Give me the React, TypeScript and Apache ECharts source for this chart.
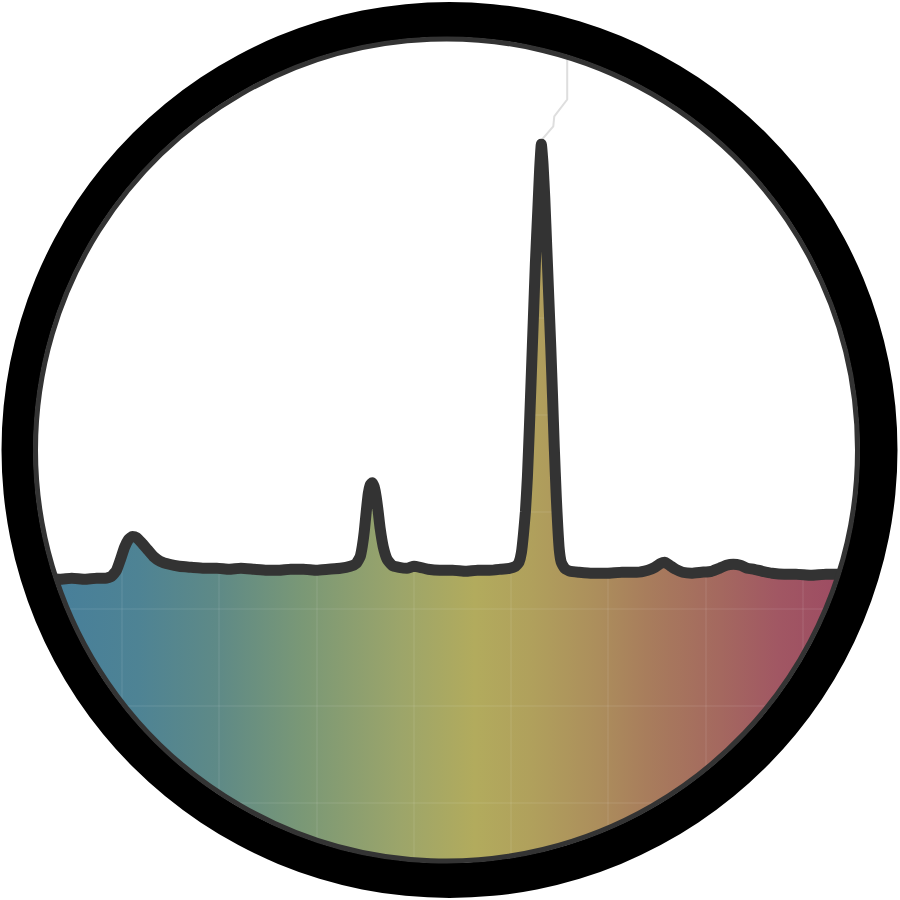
import React, { useEffect, useRef } from "react";
import * as echarts from "echarts";

// Spectrum trace (x: shift units, y: intensity units)
const shift = [
  5.5, 20.5, 35.5, 47.5, 60.5, 72.5, 81.5, 87.5, 92.5, 96.5, 100.5, 104.5, 108.5, 112.5, 117.5, 123.5,
  129.5, 136.5, 145.5, 155.5, 167.5, 180.5, 193.5, 205.5, 217.5, 230.5, 243.5, 255.5, 267.5, 280.5,
  293.5, 305.5, 317.5, 327.5, 333.5, 337.5, 339.5, 341.5, 343.5, 345.5, 347.5, 349.5, 351.5, 353.5,
  355.5, 357.5, 360.5, 364.5, 369.5, 376.5, 384.5, 391.5, 397.5, 405.5, 417.5, 430.5, 443.5, 455.5,
  467.5, 478.5, 487.5, 493.5, 497, 499.5, 501.5, 503.5, 505.5, 507.5, 509.5, 511.5, 513.5, 516,
  517.8, 519.5, 521.2, 523, 525, 527, 529, 530.8, 532.5, 534.5, 536, 537.5, 539.5, 543, 548.5,
  557.5, 570.5, 585.5, 600.5, 615.5, 626.5, 633.5, 639.5, 643.5, 648.5, 654.5, 661.5, 670.5, 680.5,
  690.5, 698.5, 705.5, 712.5, 719.5, 726.5, 733.5, 741.5, 751.5, 763.5, 775.5, 790.5, 805.5, 820.5, 845.5,
];
const intensity = [
  324, 324, 323, 324, 323, 324, 324, 326, 332, 343, 355, 363, 366, 365, 360, 353,
  346, 341, 338, 336, 335, 334, 334, 333, 334, 333, 332, 332, 333, 333,
  332, 333, 334, 336, 339, 346, 356, 371, 391, 409, 418, 420, 416, 406,
  391, 374, 356, 343, 337, 335, 334, 336, 335, 333, 332, 332, 331, 332,
  332, 333, 334, 336, 340, 350, 368, 391, 426, 476, 531, 586, 641, 696,
  736, 761, 741, 706, 656, 606, 556, 506, 456, 406, 376, 353, 340, 334, 331,
  330, 329, 329, 330, 330, 332, 335, 339, 340, 337, 333, 330, 329, 330,
  331, 334, 337, 338, 337, 334, 333, 331, 329, 328, 328, 327, 328, 328, 328,
];

// Faint guide trace above the main peak
const guideShift = [520.5, 531.5, 532.5, 545.5, 545.5];
const guideIntensity = [766, 779, 789, 806, 880];

const fillStops = [
  { offset: 0.0, color: "#467e9b" },
  { offset: 0.12, color: "#4e8394" },
  { offset: 0.22, color: "#5f8a86" },
  { offset: 0.32, color: "#7a9876" },
  { offset: 0.44, color: "#9ca56a" },
  { offset: 0.53, color: "#b2ab5d" },
  { offset: 0.6, color: "#b0a05c" },
  { offset: 0.68, color: "#ac8e5c" },
  { offset: 0.74, color: "#a87d5c" },
  { offset: 0.83, color: "#a4685f" },
  { offset: 0.9, color: "#a15763" },
  { offset: 1.0, color: "#9c4862" },
];

const ringPath =
  "M 1.5 450 A 448 448 0 1 1 897.5 450 A 448 448 0 1 1 1.5 450 Z " +
  "M 33.5 450 A 413 413 0 1 0 859.5 450 A 413 413 0 1 0 33.5 450 Z";

let registered = false;

export default function App() {
  const ref = useRef<HTMLDivElement>(null);
  useEffect(() => {
    if (!ref.current) return;
    if (!registered) {
      echarts.graphic.registerShape("blackRing", echarts.graphic.extendPath(ringPath, {}) as any);
      registered = true;
    }
    const chart = echarts.init(ref.current, null, { renderer: "svg" });
    const pts = shift.map((x, i) => [x, intensity[i]]);
    const guide = guideShift.map((x, i) => [x, guideIntensity[i]]);
    const split = { show: true, lineStyle: { color: "rgba(255,255,255,0.08)", width: 1.5 } };
    chart.setOption({
      animation: false,
      backgroundColor: "#ffffff",
      grid: { left: 24.5, top: 26, width: 880, height: 880, containLabel: false },
      xAxis: {
        type: "value",
        min: 0,
        max: 880,
        interval: 97.75,
        z: 2,
        axisLine: { show: false },
        axisTick: { show: false },
        axisLabel: { show: false },
        splitLine: split,
      },
      yAxis: {
        type: "value",
        min: 0,
        max: 880,
        interval: 97.75,
        z: 2,
        axisLine: { show: false },
        axisTick: { show: false },
        axisLabel: { show: false },
        splitLine: split,
      },
      series: [
        {
          type: "line",
          data: pts,
          z: 1,
          showSymbol: false,
          symbol: "none",
          smooth: 0.15,
          lineStyle: { width: 0, opacity: 0 },
          areaStyle: {
            opacity: 1,
            color: {
              type: "linear",
              x: 40,
              y: 0,
              x2: 860,
              y2: 0,
              global: true,
              colorStops: fillStops,
            },
          },
        },
        {
          type: "line",
          data: guide,
          z: 3,
          showSymbol: false,
          symbol: "none",
          lineStyle: { color: "#dedede", width: 2 },
        },
        {
          type: "line",
          data: pts,
          z: 4,
          showSymbol: false,
          symbol: "none",
          smooth: 0.15,
          lineStyle: { color: "#333333", width: 11, join: "round", cap: "round" },
        },
      ],
      graphic: [
        {
          type: "ring",
          z: 100,
          shape: { cx: 446.5, cy: 450, r0: 412, r: 1000 },
          style: { fill: "#ffffff" },
        },
        {
          type: "blackRing",
          z: 101,
          x: 0,
          y: 0,
          style: { fill: "#000000" },
        },
        {
          type: "circle",
          z: 102,
          shape: { cx: 446.5, cy: 450, r: 411 },
          style: { fill: "none", stroke: "#333333", lineWidth: 5 },
        },
      ],
    });
    return () => chart.dispose();
  }, []);
  return (
    <div
      ref={ref}
      style={{ position: "fixed", left: 0, top: 0, width: 900, height: 900, background: "#fff" }}
    />
  );
}
